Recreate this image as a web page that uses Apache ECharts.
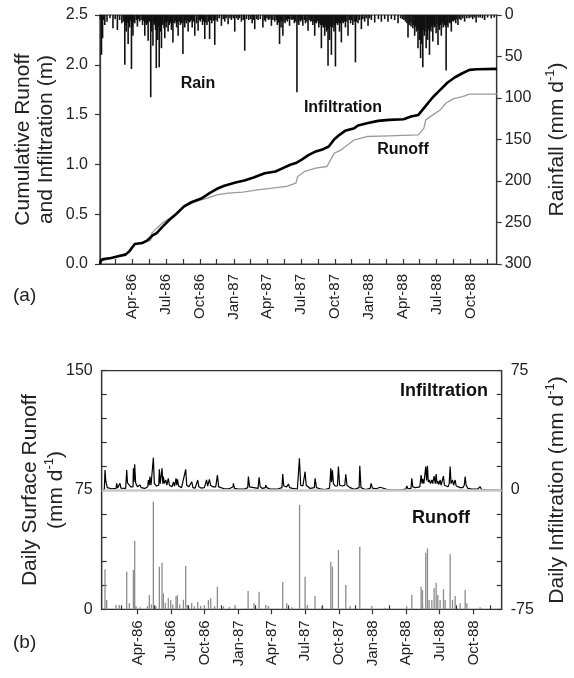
<!DOCTYPE html>
<html>
<head>
<meta charset="utf-8">
<script src="https://cdn.jsdelivr.net/npm/echarts@6/dist/echarts.min.js"></script>
<style>
  html, body { margin: 0; background: #fff; }
  #chart { width: 574px; height: 678px; }
</style>
</head>
<body>
<div id="chart"></div>
<script>
// x values are day numbers counted from 1 Jan 1986
const tickLabels = ['Apr-86', 'Jul-86', 'Oct-86', 'Jan-87', 'Apr-87', 'Jul-87', 'Oct-87', 'Jan-88', 'Apr-88', 'Jul-88', 'Oct-88'];
const labelDates = ['1986-04-01', '1986-07-01', '1986-10-01', '1987-01-01', '1987-04-01', '1987-07-01', '1987-10-01', '1988-01-01', '1988-04-01', '1988-07-01', '1988-10-01'];
const minorDates = ['1986-02-15', '1986-05-16', '1986-08-16', '1986-11-15', '1987-02-15', '1987-05-16', '1987-08-16', '1987-11-15', '1988-02-15', '1988-05-16', '1988-08-16', '1988-11-15'];

// daily rainfall, mm/d  [day, mm]
const rainData = [
  [3, 5], [7, 48], [10, 28], [13, 6], [16, 12], [22, 8], [30, 4], [38, 16], [44, 5], [50, 18], [56, 6], [62, 10], [66, 8], [70, 60], [72, 12], [74, 20],
  [77, 9], [79, 35], [81, 10], [83, 15], [86, 7], [88, 65], [90, 14], [92, 25], [94, 8], [97, 10], [101, 6], [104, 14], [107, 5], [110, 8], [114, 6], [118, 12], [121, 7], [124, 25], [126, 9], [128, 12],
  [131, 10], [133, 31], [135, 6], [137, 8], [140, 99], [143, 20], [146, 37], [148, 9], [150, 12], [153, 18], [155, 64], [157, 12], [159, 30], [161, 14], [163, 63], [166, 20],
  [169, 40], [171, 10], [173, 12], [176, 16], [178, 28], [180, 9], [182, 15], [185, 8], [187, 20], [190, 12], [192, 10], [194, 8], [196, 18], [198, 12], [200, 33], [203, 9], [205, 10], [208, 7], [210, 15],
  [212, 9], [214, 25], [217, 8], [220, 12], [224, 10], [227, 47], [230, 9], [232, 15], [234, 6], [236, 10], [239, 7], [241, 20], [244, 9], [247, 8], [250, 6], [252, 15], [256, 8], [259, 25], [264, 10],
  [268, 19], [271, 6], [274, 8], [277, 5], [280, 12], [283, 8], [286, 29], [289, 9], [292, 12], [296, 8], [299, 29], [302, 6], [305, 10], [309, 7], [313, 36], [316, 6], [320, 8], [325, 4], [331, 13],
  [336, 5], [340, 8], [344, 4], [349, 11], [354, 4], [358, 6], [363, 4], [367, 20], [372, 4], [376, 6], [380, 4], [385, 8], [390, 6], [394, 43], [399, 5], [405, 6], [410, 5], [414, 10], [418, 6], [421, 17],
  [426, 5], [430, 6], [436, 5], [443, 15], [447, 6], [450, 8], [454, 4], [458, 6], [462, 5], [466, 13], [470, 6], [475, 8], [479, 6], [482, 12], [485, 9], [488, 35], [490, 8], [492, 15], [494, 7], [497, 25],
  [500, 8], [503, 10], [506, 6], [509, 8], [512, 5], [515, 13], [519, 5], [522, 6], [525, 5], [528, 10], [531, 8], [535, 93], [538, 9], [540, 12], [543, 6], [545, 8], [548, 6], [551, 13], [555, 6], [558, 10],
  [562, 8], [565, 19], [568, 6], [572, 8], [575, 7], [578, 12], [581, 8], [583, 25], [586, 9], [588, 10], [591, 7], [594, 15], [597, 10], [599, 12], [601, 40], [604, 12], [606, 15], [608, 10], [610, 25], [612, 14], [615, 20],
  [617, 18], [619, 61], [621, 16], [623, 30], [626, 14], [628, 48], [630, 10], [632, 15], [635, 20], [637, 12], [639, 62], [642, 10], [645, 12], [648, 9], [650, 20], [653, 10], [655, 33], [658, 8], [660, 10],
  [663, 8], [666, 15], [670, 8], [673, 25], [677, 6], [680, 10], [683, 6], [686, 12], [690, 8], [693, 57], [696, 8], [700, 10], [704, 6], [709, 17], [713, 5], [718, 8], [722, 4], [727, 13], [731, 4], [736, 6],
  [745, 9], [755, 5], [763, 8], [772, 5], [781, 8], [790, 5], [799, 6], [808, 10], [815, 4], [820, 5], [824, 6], [828, 8], [832, 10],
  [835, 27], [838, 12], [840, 10], [843, 14], [846, 9], [848, 16], [851, 12], [853, 25], [856, 14], [858, 20], [860, 16], [862, 40], [864, 18], [866, 30], [868, 20], [869, 52], [871, 22], [872, 35], [874, 20], [875, 63],
  [877, 18], [879, 25], [881, 20], [884, 40], [886, 16], [888, 30], [890, 18], [893, 48], [895, 16], [897, 20], [899, 14], [902, 32], [904, 12], [906, 15], [908, 14], [911, 22], [913, 10], [916, 36], [918, 14], [920, 18],
  [923, 12], [925, 25], [928, 10], [930, 15], [932, 9], [934, 12], [936, 14], [938, 67], [941, 12], [943, 15], [946, 8], [948, 10], [950, 9], [952, 20], [955, 7], [958, 8], [961, 6], [964, 10], [967, 5], [970, 12],
  [974, 5], [978, 6], [983, 4], [988, 8], [994, 4], [1000, 4], [1005, 3], [1010, 5], [1015, 3], [1019, 9], [1025, 3], [1030, 3], [1036, 4], [1042, 6], [1050, 3], [1060, 4], [1068, 3]
];

// cumulative infiltration and runoff, m  [day, m]
const cumInfil = [
  [3, 0], [6, 0.04], [13, 0.05], [33, 0.06], [52, 0.077], [72, 0.094], [82, 0.127], [97, 0.2], [117, 0.21], [131, 0.237],
  [144, 0.284], [156, 0.31], [171, 0.37], [191, 0.445], [211, 0.51], [230, 0.578], [250, 0.62], [278, 0.66], [299, 0.712], [319, 0.755],
  [339, 0.785], [369, 0.819], [393, 0.839], [418, 0.869], [448, 0.912], [477, 0.929], [497, 0.963], [517, 0.996], [532, 1.013], [547, 1.046],
  [566, 1.093], [586, 1.13], [606, 1.153], [621, 1.18], [636, 1.253], [650, 1.297], [665, 1.337], [690, 1.364], [700, 1.39], [724, 1.414],
  [754, 1.437], [784, 1.447], [823, 1.454], [843, 1.48], [863, 1.497], [883, 1.588], [902, 1.674], [922, 1.748], [942, 1.822], [962, 1.875],
  [982, 1.915], [1001, 1.949], [1021, 1.955], [1075, 1.959]
];
const cumRunoff = [
  [3, 0], [6, 0.03], [33, 0.057], [82, 0.117], [97, 0.2], [131, 0.227], [140, 0.24], [143, 0.31], [156, 0.36], [171, 0.41],
  [191, 0.46], [211, 0.51], [230, 0.572], [250, 0.61], [278, 0.645], [299, 0.668], [319, 0.695], [349, 0.712], [389, 0.722], [428, 0.745],
  [468, 0.762], [507, 0.779], [532, 0.812], [535, 0.85], [537, 0.879], [556, 0.929], [586, 0.963], [616, 0.979], [626, 1.046], [636, 1.113],
  [655, 1.146], [690, 1.247], [724, 1.28], [784, 1.287], [863, 1.297], [878, 1.364], [883, 1.447], [902, 1.497], [922, 1.547], [937, 1.614],
  [957, 1.658], [982, 1.681], [1001, 1.705], [1075, 1.705]
];

// daily surface runoff, mm/d  [day, mm]
const runoffDaily = [
  [1.8, 25.1], [6.3, 5.8], [31.7, 2.7], [40.8, 2.7], [60.8, 23.6], [68, 3.8], [79, 24.7], [82.5, 42.9], [86, 2], [97, 1.3],
  [117, 2], [122.4, 9], [128, 3], [133.3, 67.7], [140, 2], [149.6, 26.8], [156.9, 29.3], [160.5, 10], [166, 4], [174, 6.9],
  [180.5, 5.8], [186, 3], [195, 8.4], [198.6, 8.8], [205, 3], [215, 6], [221.3, 27.2], [225.8, 2.7], [237.6, 4], [245, 2],
  [254, 4.6], [262, 2], [272, 2.5], [283, 5.8], [289.3, 6.9], [300, 2], [307.5, 14.2], [323.8, 1.9], [340, 1.5], [355.5, 2.7],
  [391, 11.5], [407.2, 3.8], [420.8, 11.1], [439, 2.7], [446.2, 2.1], [485.2, 17.2], [496, 3.8], [509.7, 1.3], [531, 65.6], [546, 20.5],
  [552, 2.7], [573, 8.4], [591, 1.9], [616, 29.9], [620.4, 26.8], [636.7, 37.3], [656.7, 15.3], [668.5, 2], [694.8, 39.4], [727.4, 2],
  [763.7, 1], [822.6, 1.9], [836.3, 9.2], [861.6, 14.2], [865.3, 12.1], [874.3, 35.6], [878.9, 38.3], [883.4, 5.8], [890.7, 5.8], [897, 13.2],
  [902.5, 16.7], [907, 9], [913.3, 5.8], [922.4, 12.6], [927, 5.8], [940.6, 34.6], [947, 6], [954.2, 8.4], [967.8, 3.8], [981.4, 12.1],
  [986, 3.8], [1022, 1.3]
];

// daily infiltration, mm/d  [day, mm]
const infilDaily = [
  [-7, 0], [0, 0.5], [1.8, 12.6], [4, 5.5], [8, 1.5], [20, 0.8], [32, 1], [33.5, 4.2], [36, 1.2], [41, 1], [42.6, 4.2], [45, 1.2],
  [58, 1], [60.8, 12.6], [63, 4.5], [68, 4.2], [72, 2], [78, 2], [79, 13.6], [80.5, 5], [82.5, 16.1], [85, 4.5], [90, 2], [97, 3.1],
  [100, 1.5], [110, 1], [118, 2], [119.7, 6.3], [122, 3], [124, 8.4], [127, 3], [132, 2.5], [133.3, 20.3], [136, 4], [142, 2.5], [148, 3],
  [149.6, 13], [152, 4], [156.9, 13.6], [159, 4], [160.5, 8.4], [163, 4], [167, 6.3], [170, 3], [174, 7.3], [177, 3], [181, 4.2], [184, 2],
  [188, 5], [191, 2.5], [195, 7.3], [197, 3], [199, 6.7], [202, 2.5], [210, 1.5], [214, 2], [221.3, 13], [224, 3], [226, 4.2], [230, 2],
  [237.6, 5.2], [241, 1.5], [247, 1.2], [254, 6.3], [257, 2], [263, 1.2], [272, 1.5], [278, 6.3], [281, 2.5], [285.7, 6.7], [289, 3], [295, 2],
  [303, 2], [307.5, 9.4], [311, 2], [316, 1.2], [326, 0.8], [340, 0.8], [350, 2], [351, 4.2], [354, 1], [364, 0.5], [380, 0.5], [390, 1.5],
  [391.8, 8.4], [395, 2], [400, 1], [418, 1], [420.8, 8], [424, 2], [430, 1], [438, 1.5], [439, 3.1], [442, 1.5], [452, 0.5], [470, 0.5],
  [483, 1.5], [485.2, 10], [488, 2.5], [496, 2], [500.7, 3.8], [504, 1.5], [512, 1], [525, 0.5], [529, 1.5], [530.6, 19.9], [534, 3], [540, 2.5],
  [544, 2], [546, 11.5], [549, 3], [554, 2], [560, 1], [571, 1.5], [573.2, 7.3], [577, 1.5], [590, 0.5], [600, 0.3], [612, 1], [614, 5],
  [615.9, 13.6], [618, 5], [620.4, 12.6], [623, 4], [628, 2.5], [634, 2.5], [636.7, 14.7], [640, 3], [648, 2.5], [654, 3], [656.7, 9.9], [660, 3],
  [668, 1.5], [680, 0.5], [693, 1.5], [694.8, 15.3], [698, 1.5], [710, 0.3], [723, 1], [725.6, 4.2], [729, 1.2], [740, 0.8], [750, 1.7], [753, 0.5],
  [770, 0.3], [800, 0], [820, 0.5], [822.6, 2.5], [826, 0.8], [834, 1], [836.3, 7.3], [839, 2], [846, 1.5], [858, 2], [861.6, 9.4], [864, 4],
  [866, 7], [869, 4], [872, 5], [874.3, 14.7], [876.5, 6], [878.9, 15.3], [881, 5], [884, 6.3], [887, 4], [890.7, 6.3], [893, 4], [897, 8.8],
  [900, 4], [902.5, 10], [905, 4], [907, 5.5], [910, 3.5], [913.3, 6.3], [916, 3], [920, 4], [922.4, 8.8], [925, 3], [928, 2], [935, 2],
  [938, 4], [940.6, 14.7], [943, 4], [947, 6.3], [950, 3], [954.2, 6.3], [957, 2.5], [962, 2], [968, 1.5], [975, 1.5], [979, 3], [981.4, 8.4],
  [984, 3], [986, 4.2], [989, 1], [1000, 0.5], [1015, 0.5], [1020, 1], [1022.2, 2.1], [1026, 0.3], [1050, 0], [1081, 0]
];

const DAY0 = Date.UTC(1986, 0, 1);
function toDay(s) {
  return (Date.parse(s + 'T00:00:00Z') - DAY0) / 86400000;
}
const labelDays = labelDates.map(toDay);
const minorDays = minorDates.map(toDay);
const tickDays = labelDays.concat(minorDays);

const FONT = 'Liberation Sans, Arial, Helvetica, sans-serif';
const axisColor = '#333';

function dateFormatter(v) {
  const i = labelDays.indexOf(Math.round(v));
  return i >= 0 ? tickLabels[i] : '';
}

const lineStyle = { color: axisColor, width: 1.2 };
const dateLabelStyle = { color: '#222', fontSize: 15, fontFamily: FONT };
const labelStyle = { color: '#222', fontSize: 16, fontFamily: FONT };

const chart = echarts.init(document.getElementById('chart'));

chart.setOption({
  animation: false,
  backgroundColor: '#fff',
  grid: [
    { left: 100, top: 15, width: 396.7, height: 249, show: true, borderColor: axisColor, borderWidth: 1.2, backgroundColor: 'transparent' },
    { left: 101.7, top: 370.7, width: 400, height: 238.6, show: true, borderColor: axisColor, borderWidth: 1.2, backgroundColor: 'transparent' }
  ],
  xAxis: [
    {
      gridIndex: 0, type: 'value', min: 3, max: 1074.6,
      axisLine: { onZero: false, lineStyle: lineStyle },
      axisTick: { inside: true, length: 5, lineStyle: lineStyle, customValues: tickDays },
      axisLabel: Object.assign({ customValues: labelDays, rotate: 90, margin: 10, formatter: dateFormatter }, dateLabelStyle),
      splitLine: { show: false }
    },
    {
      gridIndex: 1, type: 'value', min: -7.2, max: 1080.8,
      axisLine: { onZero: false, lineStyle: lineStyle },
      axisTick: { inside: false, length: 5, lineStyle: lineStyle, customValues: labelDays },
      axisLabel: Object.assign({ customValues: labelDays, rotate: 90, margin: 11, formatter: dateFormatter }, dateLabelStyle),
      splitLine: { show: false }
    },
    {
      gridIndex: 1, type: 'value', min: -7.2, max: 1080.8, position: 'bottom',
      axisLine: { show: false, onZero: false },
      axisTick: { inside: true, length: 4, lineStyle: lineStyle, customValues: minorDays },
      axisLabel: { show: false },
      splitLine: { show: false }
    }
  ],
  yAxis: [
    {
      gridIndex: 0, type: 'value', min: 0, max: 2.5, interval: 0.5, position: 'left',
      axisLine: { show: true, onZero: false, lineStyle: lineStyle },
      axisTick: { show: true, length: 5, lineStyle: lineStyle },
      axisLabel: Object.assign({ margin: 12, formatter: v => v.toFixed(1) }, labelStyle),
      splitLine: { show: false }
    },
    {
      gridIndex: 0, type: 'value', min: 0, max: 300, interval: 50, inverse: true, position: 'right',
      axisLine: { show: true, onZero: false, lineStyle: lineStyle },
      axisTick: { show: true, length: 5, lineStyle: lineStyle },
      axisLabel: Object.assign({ margin: 8 }, labelStyle),
      splitLine: { show: false }
    },
    {
      gridIndex: 1, type: 'value', min: 0, max: 150, interval: 15, position: 'left',
      axisLine: { show: true, onZero: false, lineStyle: lineStyle },
      axisTick: { show: true, inside: true, length: 5, lineStyle: lineStyle },
      axisLabel: Object.assign({ margin: 9, formatter: v => (v % 75 === 0 ? String(v) : '') }, labelStyle),
      splitLine: { show: false }
    },
    {
      gridIndex: 1, type: 'value', min: -75, max: 75, interval: 15, position: 'right',
      axisLine: { show: true, onZero: false, lineStyle: lineStyle },
      axisTick: { show: true, inside: true, length: 5, lineStyle: lineStyle },
      axisLabel: Object.assign({ margin: 9, formatter: v => (v % 75 === 0 ? String(v) : '') }, labelStyle),
      splitLine: { show: false }
    }
  ],
  series: [
    {
      name: 'Rain', type: 'bar', xAxisIndex: 0, yAxisIndex: 1,
      data: rainData, barWidth: 1.6, itemStyle: { color: '#111' }
    },
    {
      name: 'Runoff', type: 'line', xAxisIndex: 0, yAxisIndex: 0,
      data: cumRunoff, symbol: 'none', lineStyle: { color: '#9a9a9a', width: 1.3 }
    },
    {
      name: 'Infiltration', type: 'line', xAxisIndex: 0, yAxisIndex: 0,
      data: cumInfil, symbol: 'none', lineStyle: { color: '#000', width: 2.6 }
    },
    {
      name: 'Daily runoff', type: 'bar', xAxisIndex: 1, yAxisIndex: 2,
      data: runoffDaily, barWidth: 1.3, itemStyle: { color: '#8c8c8c' },
      markLine: {
        silent: true, symbol: 'none', label: { show: false },
        lineStyle: { color: '#c8c8c8', width: 2.5, type: 'solid' },
        data: [{ yAxis: 75 }]
      }
    },
    {
      name: 'Daily infiltration', type: 'line', xAxisIndex: 1, yAxisIndex: 3,
      data: infilDaily, symbol: 'none', lineStyle: { color: '#000', width: 1.2 }
    }
  ],
  graphic: [
    // axis titles
    { type: 'text', x: 23, y: 139.5, rotation: Math.PI / 2, style: { text: 'Cumulative Runoff', font: '21px ' + FONT, fill: '#222', align: 'center', verticalAlign: 'middle' } },
    { type: 'text', x: 46, y: 139.5, rotation: Math.PI / 2, style: { text: 'and Infiltration (m)', font: '21px ' + FONT, fill: '#222', align: 'center', verticalAlign: 'middle' } },
    {
      type: 'text', x: 557, y: 139.5, rotation: Math.PI / 2,
      style: {
        text: 'Rainfall (mm d{sup|-1})', font: '21px ' + FONT, fill: '#222', align: 'center', verticalAlign: 'middle',
        lineHeight: 26, rich: { sup: { fontSize: 13, fontFamily: FONT, verticalAlign: 'top', lineHeight: 26 } }
      }
    },
    { type: 'text', x: 30, y: 490, rotation: Math.PI / 2, style: { text: 'Daily Surface Runoff', font: '21px ' + FONT, fill: '#222', align: 'center', verticalAlign: 'middle' } },
    {
      type: 'text', x: 56, y: 490, rotation: Math.PI / 2,
      style: {
        text: '(mm d{sup|-1})', font: '21px ' + FONT, fill: '#222', align: 'center', verticalAlign: 'middle',
        lineHeight: 26, rich: { sup: { fontSize: 13, fontFamily: FONT, verticalAlign: 'top', lineHeight: 26 } }
      }
    },
    {
      type: 'text', x: 557, y: 490, rotation: Math.PI / 2,
      style: {
        text: 'Daily Infiltration (mm d{sup|-1})', font: '21px ' + FONT, fill: '#222', align: 'center', verticalAlign: 'middle',
        lineHeight: 26, rich: { sup: { fontSize: 13, fontFamily: FONT, verticalAlign: 'top', lineHeight: 26 } }
      }
    },
    // panel letters
    { type: 'text', x: 13, y: 296, style: { text: '(a)', font: '19px ' + FONT, fill: '#222', align: 'left', verticalAlign: 'middle' } },
    { type: 'text', x: 13, y: 643, style: { text: '(b)', font: '19px ' + FONT, fill: '#222', align: 'left', verticalAlign: 'middle' } },
    // in-plot labels
    { type: 'text', x: 198, y: 84, style: { text: 'Rain', font: 'bold 16px ' + FONT, fill: '#111', align: 'center', verticalAlign: 'middle' } },
    { type: 'text', x: 343, y: 108, style: { text: 'Infiltration', font: 'bold 16px ' + FONT, fill: '#111', align: 'center', verticalAlign: 'middle' } },
    { type: 'text', x: 403, y: 150, style: { text: 'Runoff', font: 'bold 16px ' + FONT, fill: '#111', align: 'center', verticalAlign: 'middle' } },
    { type: 'text', x: 444, y: 391, style: { text: 'Infiltration', font: 'bold 18px ' + FONT, fill: '#111', align: 'center', verticalAlign: 'middle' } },
    { type: 'text', x: 441, y: 518, style: { text: 'Runoff', font: 'bold 18px ' + FONT, fill: '#111', align: 'center', verticalAlign: 'middle' } }
  ]
});
</script>
</body>
</html>
